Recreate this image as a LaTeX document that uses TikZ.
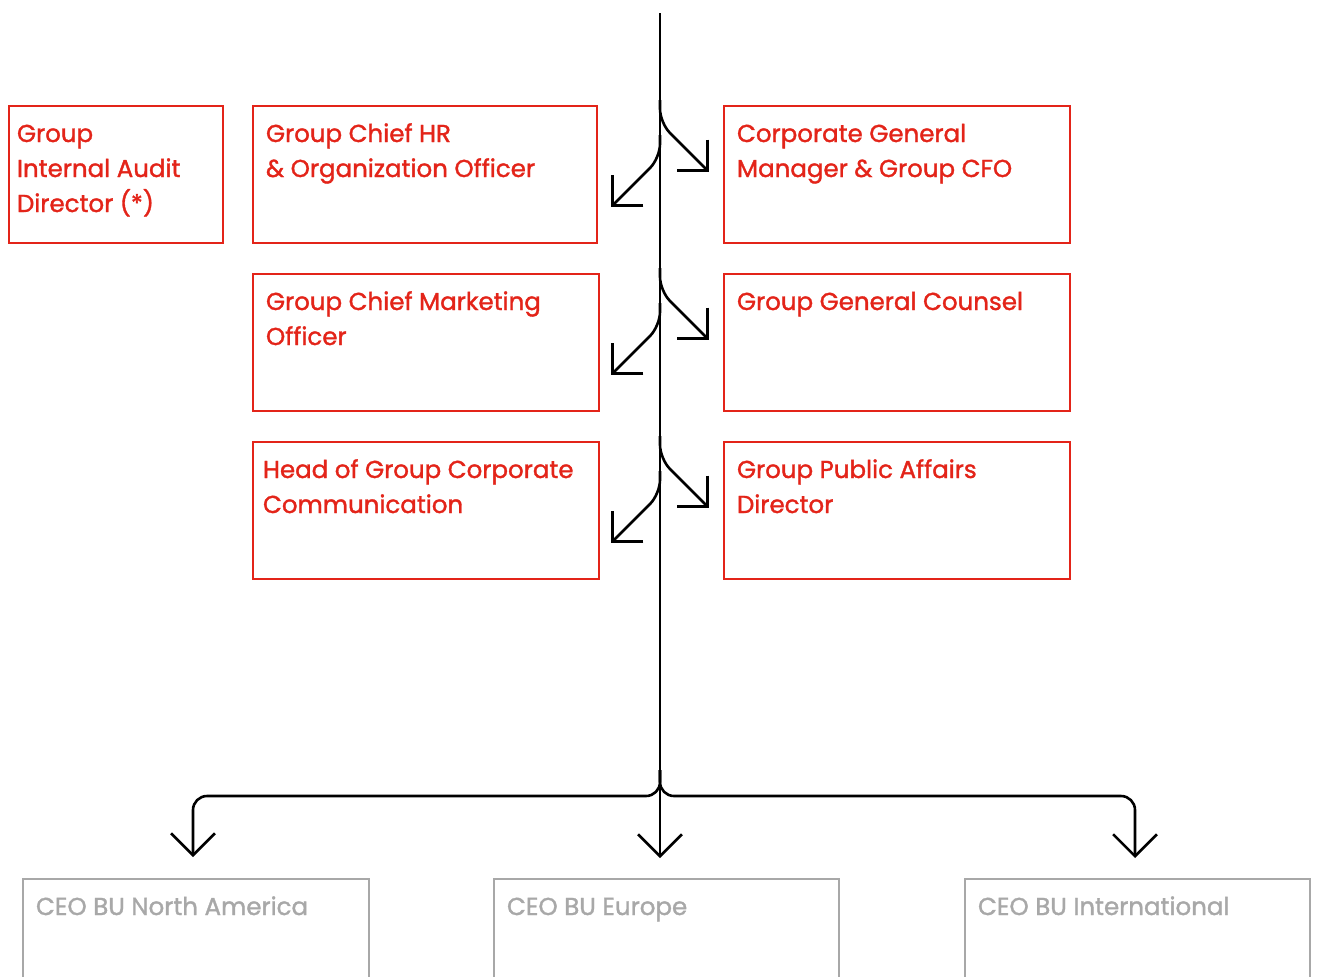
\documentclass[tikz,border=0pt]{standalone}
\usepackage{fontspec}
\setmainfont{Poppins}[FakeBold=1.4]
\usetikzlibrary{arrows.meta}
\definecolor{brandred}{RGB}{227,36,25}
\definecolor{bugray}{RGB}{168,168,168}
\tikzset{
  role/.style={draw=brandred, text=brandred, line width=2.8pt, outer sep=0pt,
    anchor=north west, inner xsep=13pt, inner ysep=11.5pt,
    font=\fontsize{24.5}{35}\selectfont},
  bu/.style={role, draw=bugray, text=bugray},
  link/.style={line width=2.6pt, rounded corners=14pt},
  tip/.style={-{Straight Barb[angle=90:31pt]}}
}
\newcommand{\boxtext}[2][320pt]{\parbox[t][114pt][t]{#1}{\raggedright\strut #2}}
\begin{document}
\begin{tikzpicture}[x=1pt,y=-1pt]
        \clip (0,0) rectangle (1317,977);

        % boxes
        \node[role, inner xsep=8pt] (audit) at (9,106) {\boxtext[198pt]{Group\\Internal Audit\\Director (*)}};
        \node[role] (hr) at (253,106) {\boxtext[318pt]{Group Chief HR\\\& Organization Officer}};
        \node[role] (cfo) at (724,106) {\boxtext{Corporate General\\Manager \& Group CFO}};
        \node[role] (cmo) at (253,274) {\boxtext{Group Chief Marketing\\Officer}};
        \node[role] (counsel) at (724,274) {\boxtext{Group General Counsel}};
        \node[role, inner xsep=10pt] (comm) at (253,442) {\boxtext[326pt]{Head of Group Corporate\\Communication}};
        \node[role] (affairs) at (724,442) {\boxtext{Group Public Affairs\\Director}};

        \node[bu] (na) at (23,879) {\boxtext{CEO BU North America}};
        \node[bu] (eu) at (494,879) {\boxtext[319pt]{CEO BU Europe}};
        \node[bu] (intl) at (965,879) {\boxtext[319pt]{CEO BU International}};

        % trunk
        \coordinate (top) at (660,13);
        \coordinate (split) at (660,796);
        \coordinate (na tip) at (193,857);
        \coordinate (eu tip) at (660,858);
        \coordinate (intl tip) at (1135,858);
        \draw[line width=2.6pt,tip] (top) -- (eu tip);

        % staff branches
        \foreach \dy [count=\r] in {0,168,336} {
            \coordinate (R\r) at (709,172+\dy);
            \coordinate (L\r) at (611,207+\dy);
            \draw[link,tip] (660,100+\dy) -- (660,123+\dy) -- (R\r);
            \draw[link,tip] (660,135+\dy) -- (660,158+\dy) -- (L\r);
        }

        % business units
        \draw[link,tip] (660,770) -- (split) -| (na tip);
        \draw[link,tip] (660,770) -- (split) -| (intl tip);

    \end{tikzpicture}
\end{document}
